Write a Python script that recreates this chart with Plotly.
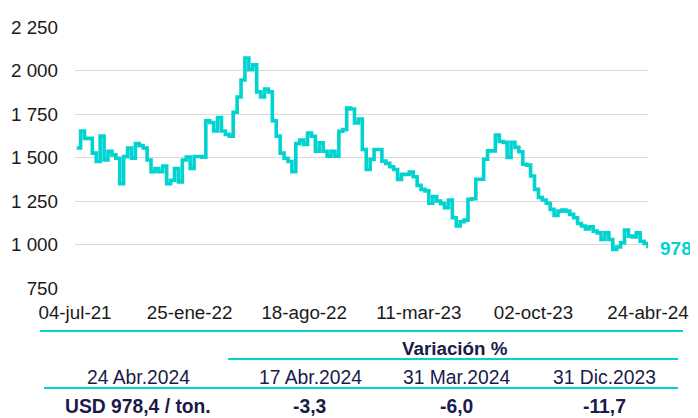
import pandas as pd
import plotly.graph_objects as go

# Weekly price, USD / ton, ending 24-abr-2024
prices = [
    1555, 1652, 1610, 1610, 1525, 1477, 1623, 1486, 1535, 1515,
    1496, 1350, 1505, 1555, 1496, 1580, 1568, 1555, 1486, 1418,
    1437, 1418, 1451, 1350, 1369, 1437, 1359, 1486, 1502, 1437,
    1506, 1506, 1502, 1711, 1701, 1652, 1730, 1652, 1633, 1623,
    1760, 1848, 1945, 2072, 2004, 2033, 1877, 1848, 1893, 1877,
    1711, 1623, 1525, 1496, 1477, 1418, 1580, 1600, 1575, 1641,
    1622, 1536, 1584, 1536, 1508, 1536, 1508, 1651, 1660, 1784,
    1779, 1698, 1721, 1546, 1431, 1489, 1546, 1546, 1479, 1466,
    1447, 1431, 1374, 1403, 1403, 1416, 1389, 1340, 1317, 1308,
    1237, 1275, 1250, 1235, 1212, 1256, 1154, 1106, 1131, 1140,
    1260, 1263, 1375, 1375, 1490, 1538, 1538, 1629, 1592, 1587,
    1500, 1587, 1558, 1533, 1461, 1456, 1394, 1317, 1270, 1256,
    1237, 1202, 1167, 1192, 1198, 1192, 1173, 1154, 1121, 1106,
    1090, 1102, 1077, 1067, 1029, 1067, 1029, 971, 986, 1010,
    1083, 1048, 1044, 1067, 1019, 1006, 978.4,
]
end_date = "2024-04-24"
dates = pd.date_range(end=end_date, periods=len(prices), freq="7D")

x_tick_vals = ["2021-07-04", "2022-01-25", "2022-08-18", "2023-03-11", "2023-10-02", "2024-04-24"]
x_tick_text = ["04-jul-21", "25-ene-22", "18-ago-22", "11-mar-23", "02-oct-23", "24-abr-24"]
y_tick_vals = [750, 1000, 1250, 1500, 1750, 2000, 2250]

last_label = "978"

header_label = "Variación %"
col_dates = ["24 Abr.2024", "17 Abr.2024", "31 Mar.2024", "31 Dic.2023"]
row_values = ["USD 978,4 / ton.", "-3,3", "-6,0", "-11,7"]

TEAL = "#00d3d0"
NAVY = "#1b1b4b"
FONT = "Liberation Sans, Arial, sans-serif"

OFF = 8  # page body margin
W, H = 698 - OFF, 418 - OFF
ML, MT = 75 - OFF, 27 - OFF
MR = W - (648 - OFF)
MB = H - (288 - OFF)
PW, PH = W - ML - MR, H - MT - MB


def px(x):
    return (x - OFF - ML) / PW


def py(y):
    return (H - MB - (y - OFF)) / PH


fig = go.Figure()
fig.add_trace(go.Scatter(
    x=dates, y=prices, mode="lines", line=dict(color=TEAL, width=3.6, shape="hv"),
    hoverinfo="skip", showlegend=False,
))

fig.add_annotation(
    x=dates[-1], y=prices[-1], text=f"<b>{last_label}</b>", showarrow=False,
    xanchor="left", yanchor="middle", xshift=10,
    font=dict(family=FONT, size=19, color=TEAL),
)

# Table lines
shapes = []
for (x0, x1, y) in [(40, 683, 331), (228, 678, 359), (44, 678, 388)]:
    shapes.append(dict(type="line", xref="paper", yref="paper",
                       x0=px(x0), x1=px(x1), y0=py(y), y1=py(y),
                       line=dict(color=TEAL, width=2)))
fig.update_layout(shapes=shapes)

fig.add_annotation(x=px(455), y=py(348), xref="paper", yref="paper",
                   text=f"<b>{header_label}</b>", showarrow=False,
                   xanchor="center", yanchor="middle",
                   font=dict(family=FONT, size=18.8, color=NAVY))

col_x = [138, 310, 456, 604]
for cx, t in zip(col_x, col_dates):
    fig.add_annotation(x=px(cx), y=py(377), xref="paper", yref="paper",
                       text=t, showarrow=False, xanchor="center", yanchor="middle",
                       font=dict(family=FONT, size=19.3, color=NAVY))
for cx, t in zip(col_x, row_values):
    fig.add_annotation(x=px(cx), y=py(406.5), xref="paper", yref="paper",
                       text=f"<b>{t}</b>", showarrow=False, xanchor="center", yanchor="middle",
                       borderpad=0,
                       font=dict(family=FONT, size=19.3, color=NAVY))

fig.update_layout(
    width=W, height=H,
    margin=dict(l=ML, r=MR, t=MT, b=MB, pad=0, autoexpand=False),
    paper_bgcolor="white", plot_bgcolor="white",
    separators=", ",
    font=dict(family=FONT, size=18.8, color="#1a1a1a"),
    xaxis=dict(
        type="date", range=["2021-07-04", end_date], automargin=False,
        tickvals=x_tick_vals, ticktext=x_tick_text,
        showgrid=False, zeroline=False, showline=False,
        ticks="", ticklabelstandoff=11,
        tickfont=dict(family=FONT, size=18.8, color="#1a1a1a"),
    ),
    yaxis=dict(
        range=[750, 2250], tickvals=y_tick_vals, tickformat=",d", automargin=False,
        showgrid=True, gridcolor="#d9d9d9", gridwidth=1.3,
        zeroline=False, showline=False, ticks="", ticklabelstandoff=16,
        tickfont=dict(family=FONT, size=18.8, color="#1a1a1a"),
    ),
)

fig.write_html("out.html")
